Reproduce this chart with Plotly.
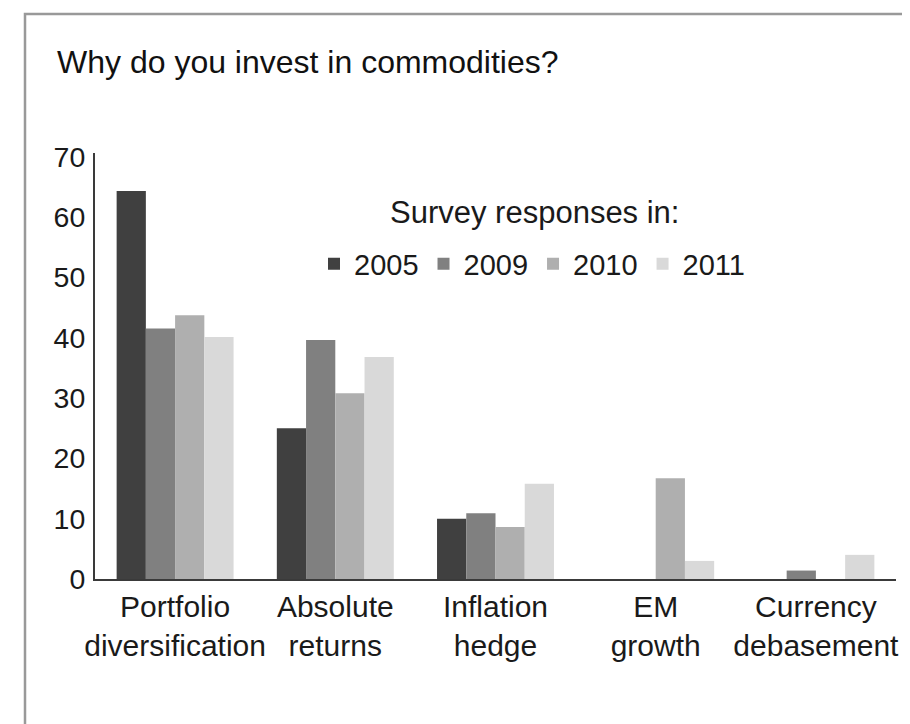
import plotly.graph_objects as go

categories = ["Portfolio diversification", "Absolute returns", "Inflation hedge", "EM growth", "Currency debasement"]
tick_labels = ["Portfolio<br>diversification", "Absolute<br>returns", "Inflation<br>hedge", "EM<br>growth", "Currency<br>debasement"]

years = ["2005", "2009", "2010", "2011"]
v2005 = [64.3, 25.0, 10.0, None, None]
v2009 = [41.5, 39.6, 10.9, None, 1.4]
v2010 = [43.7, 30.8, 8.6, 16.7, None]
v2011 = [40.1, 36.8, 15.8, 3.0, 4.0]
series = [v2005, v2009, v2010, v2011]
colors = ["#404040", "#808080", "#afafaf", "#d9d9d9"]

yticks = [0, 10, 20, 30, 40, 50, 60, 70]

FONT = "Liberation Sans, Arial, Helvetica, sans-serif"

fig = go.Figure()
for name, vals, c in zip(years, series, colors):
    fig.add_trace(go.Bar(x=categories, y=vals, name=name, marker=dict(color=c, line=dict(width=0))))

# Plot area: x 87..888, y 145..571 in a 910x724 page
L, R, T, B = 87, 22, 145, 153
W, H = 910, 724
pw, ph = W - L - R, H - T - B

def px_to_paper_x(px):
    return (px - L) / pw

def px_to_paper_y(py):
    return (H - B - py) / ph

annotations = [
    dict(x=px_to_paper_x(526), xref="paper", y=px_to_paper_y(204), yref="paper",
         text="Survey responses in:", showarrow=False, xanchor="center", yanchor="middle",
         font=dict(family=FONT, size=31, color="#1a1a1a"))
]

fig.update_layout(
    width=W, height=H,
    margin=dict(l=L, r=R, t=T, b=B, pad=0),
    paper_bgcolor="white", plot_bgcolor="white",
    barmode="group", bargap=0.27, bargroupgap=0,
    title=dict(text="Why do you invest in commodities?", x=49 / W, xanchor="left", xref="container",
               y=1 - 54 / H, yanchor="middle", yref="container",
               font=dict(family=FONT, size=32, color="#111111")),
    showlegend=True,
    legend=dict(orientation="h", x=px_to_paper_x(306), xanchor="left", y=px_to_paper_y(256), yanchor="middle",
                font=dict(family=FONT, size=29, color="#1a1a1a"),
                bgcolor="rgba(0,0,0,0)", traceorder="normal"),
    xaxis=dict(tickmode="array", tickvals=categories, ticktext=tick_labels, ticks="",
               ticklabelstandoff=0,
               tickfont=dict(family=FONT, size=30, color="#1a1a1a"),
               showgrid=False, zeroline=False,
               showline=True, linecolor="#3a3a3a", linewidth=2, range=[-0.5, 4.5]),
    yaxis=dict(range=[0, 70.6], tickvals=yticks, ticktext=[str(v) for v in yticks], ticks="",
               showgrid=False, zeroline=False, showline=True, linecolor="#3a3a3a", linewidth=2,
               ticklabelstandoff=2,
               tickfont=dict(family=FONT, size=28.5, color="#1a1a1a")),
    annotations=annotations,
    shapes=[dict(type="rect", xref="paper", yref="paper",
                 x0=px_to_paper_x(17), x1=px_to_paper_x(906),
                 y0=px_to_paper_y(740), y1=px_to_paper_y(6),
                 line=dict(color="#999999", width=2.5), fillcolor="rgba(0,0,0,0)", layer="below")],
)

fig.write_html("out.html")
